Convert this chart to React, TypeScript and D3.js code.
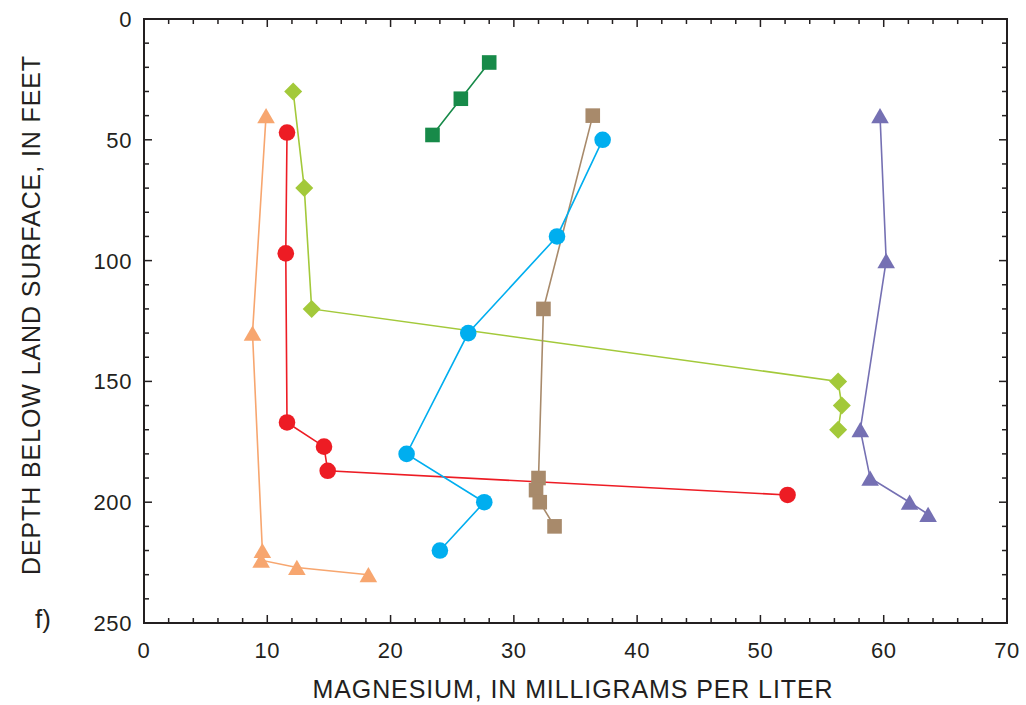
import React from "react";
import * as d3 from "d3";

const orangeX = [9.9, 8.8, 9.6, 9.5, 12.4, 18.2];
const orangeY = [40, 130, 220, 224, 227, 230];
const redX = [11.6, 11.5, 11.6, 14.6, 14.9, 52.2];
const redY = [47, 97, 167, 177, 187, 197];
const lgreenX = [12.1, 13.0, 13.6, 56.3, 56.6, 56.3];
const lgreenY = [30, 70, 120, 150, 160, 170];
const purpleX = [59.7, 60.2, 58.1, 58.9, 62.1, 63.6];
const purpleY = [40, 100, 170, 190, 200, 205];
const dgreenX = [28.0, 25.7, 23.4];
const dgreenY = [18, 33, 48];
const tanX = [36.4, 32.4, 32.0, 31.8, 32.1, 33.3];
const tanY = [40, 120, 190, 195, 200, 210];
const blueX = [37.2, 33.5, 26.3, 21.3, 27.6, 24.0];
const blueY = [50, 90, 130, 180, 200, 220];

const xTicks = [0, 10, 20, 30, 40, 50, 60, 70];
const yTicks = [0, 50, 100, 150, 200, 250];

type Series = { xs: number[]; ys: number[]; color: string; shape: string };
const series: Series[] = [
  { xs: orangeX, ys: orangeY, color: "#F7A66F", shape: "triangle" },
  { xs: redX, ys: redY, color: "#ED1C24", shape: "circle" },
  { xs: lgreenX, ys: lgreenY, color: "#A3C93A", shape: "diamond" },
  { xs: purpleX, ys: purpleY, color: "#7570B3", shape: "triangle" },
  { xs: dgreenX, ys: dgreenY, color: "#178A49", shape: "square" },
  { xs: tanX, ys: tanY, color: "#A88A6B", shape: "square" },
  { xs: blueX, ys: blueY, color: "#00AEEF", shape: "circle" },
];

const L = 144, R = 1007, T = 19, B = 623;
const FONT = "'Liberation Sans', Arial, Helvetica, sans-serif";
const INK = "#231F20";

function marker(shape: string, cx: number, cy: number, color: string, key: number) {
  if (shape === "circle") return <circle key={key} cx={cx} cy={cy} r={8.3} fill={color} />;
  if (shape === "square") return <rect key={key} x={cx - 7.3} y={cy - 7.3} width={14.6} height={14.6} fill={color} />;
  if (shape === "diamond") {
    const h = 9;
    return <path key={key} d={`M${cx},${cy - h}L${cx + h},${cy}L${cx},${cy + h}L${cx - h},${cy}Z`} fill={color} />;
  }
  const w = 8.8, hh = 7.6;
  return <path key={key} d={`M${cx},${cy - hh}L${cx + w},${cy + hh}L${cx - w},${cy + hh}Z`} fill={color} />;
}

export default function App() {
  const x = d3.scaleLinear().domain([0, 70]).range([L, R]);
  const y = d3.scaleLinear().domain([0, 250]).range([T, B]);
  const line = d3.line<[number, number]>().x(d => x(d[0])).y(d => y(d[1]));
  const xMinor = d3.range(0, 70.001, 2);
  const yMinor = d3.range(0, 250.001, 10);

  return (
    <svg width={1026} height={705} style={{ position: "absolute", left: 0, top: 0, background: "#fff" }}>
      {xMinor.map(v => {
        const major = Math.abs(v % 10) < 1e-6;
        const len = major ? 8 : 5;
        return (
          <g key={"xt" + v} stroke={INK} strokeWidth={1.5}>
            <line x1={x(v)} x2={x(v)} y1={B} y2={B - len} />
            <line x1={x(v)} x2={x(v)} y1={T} y2={T + len} />
          </g>
        );
      })}
      {yMinor.map(v => {
        const major = Math.abs(v % 50) < 1e-6;
        const len = major ? 8 : 5;
        return (
          <g key={"yt" + v} stroke={INK} strokeWidth={1.5}>
            <line x1={L} x2={L + len} y1={y(v)} y2={y(v)} />
            <line x1={R} x2={R - len} y1={y(v)} y2={y(v)} />
          </g>
        );
      })}
      <rect x={L} y={T} width={R - L} height={B - T} fill="none" stroke={INK} strokeWidth={2} />
      {xTicks.map(v => (
        <text key={"xl" + v} x={x(v)} y={658} textAnchor="middle" fontFamily={FONT} fontSize={22} letterSpacing={0.6} fill={INK}>{v}</text>
      ))}
      {yTicks.map(v => (
        <text key={"yl" + v} x={132} y={y(v) + 8} textAnchor="end" fontFamily={FONT} fontSize={22} letterSpacing={0.6} fill={INK}>{v}</text>
      ))}
      <text x={573} y={698} textAnchor="middle" fontFamily={FONT} fontSize={25} letterSpacing={0.9} fill={INK}>MAGNESIUM, IN MILLIGRAMS PER LITER</text>
      <text transform={`translate(40,${315}) rotate(-90)`} textAnchor="middle" fontFamily={FONT} fontSize={25} letterSpacing={0.9} fill={INK}>DEPTH BELOW LAND SURFACE, IN FEET</text>
      <text x={35} y={628} fontFamily={FONT} fontSize={26} fill={INK}>f)</text>
      {series.map((s, i) => {
        const pts: [number, number][] = s.xs.map((v, j) => [v, s.ys[j]]);
        return (
          <g key={"s" + i}>
            <path d={line(pts) || ""} fill="none" stroke={s.color} strokeWidth={1.6} />
            {pts.map((p, j) => marker(s.shape, x(p[0]), y(p[1]), s.color, j))}
          </g>
        );
      })}
    </svg>
  );
}
